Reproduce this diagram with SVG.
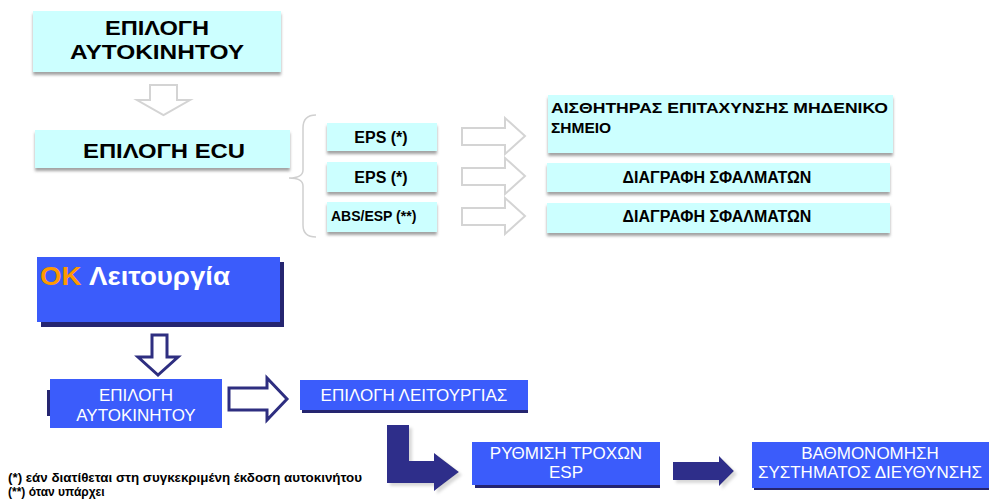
<svg xmlns="http://www.w3.org/2000/svg" width="989" height="502" viewBox="0 0 989 502">
<defs>
<filter id="sh" x="-5%" y="-20%" width="110%" height="150%">
<feDropShadow dx="0" dy="3" stdDeviation="1.5" flood-color="#8a8a8a" flood-opacity="0.8"/>
</filter>
<filter id="ash" x="-20%" y="-20%" width="150%" height="150%">
<feDropShadow dx="3" dy="3" stdDeviation="1.5" flood-color="#d8d8d8" flood-opacity="1"/>
</filter>
</defs>
<style>
.cy{fill:#ccffff;filter:url(#sh)}
.bl{fill:#3b5cfb}
.nv{fill:#252570}
.tb{font-family:"Liberation Sans",Arial,sans-serif;font-weight:bold;fill:#000}
.tw{font-family:"Liberation Sans",Arial,sans-serif;fill:#fff;font-size:17px}
.ha{fill:#fff;stroke:#d4d4d4;stroke-width:2}
.hn{fill:#fff;stroke:#2e2e80;stroke-width:3}
.sn{fill:#2e2e8a;filter:url(#ash)}
.brace{fill:none;stroke:#d0d0d0;stroke-width:1.5}
</style>

<g id="connectors">
<path class="ha" d="M150,85 H177 V100 H190 L163.5,115 L137,100 H150 Z"/>
<path class="brace" d="M316,115 Q303,115 303,128 V170 Q303,178 289,178 Q303,178 303,186 V225 Q303,237 316,237"/>
<path class="ha" d="M462,128 H505 V118 L525,136 L505,154 V145 H462 Z"/>
<path class="ha" d="M462,168 H505 V158 L525,176 L505,194 V185 H462 Z"/>
<path class="ha" d="M462,208 H505 V198 L525,216 L505,234 V225 H462 Z"/>
<path class="hn" d="M152,335 H167 V357 H178 L158,375 L138,357 H152 Z"/>
<path class="hn" d="M229,388 H267 V378 L287,399 L267,420 V410 H229 Z"/>
<path class="sn" d="M387,425 H409 V461 H434 V453 L459,472 L434,491 V483 H387 Z"/>
<path class="sn" d="M673,462 H719 V456 L734,471 L719,486 V480 H673 Z"/>
</g>

<g id="n-car-top">
<rect class="cy" x="33" y="11" width="248" height="61"/>
<text class="tb" x="157" y="35" font-size="20" text-anchor="middle" textLength="104" lengthAdjust="spacingAndGlyphs">ΕΠΙΛΟΓΗ</text>
<text class="tb" x="157" y="59" font-size="20" text-anchor="middle" textLength="174" lengthAdjust="spacingAndGlyphs">ΑΥΤΟΚΙΝΗΤΟΥ</text>
</g>

<g id="n-ecu">
<rect class="cy" x="35" y="130" width="255" height="38"/>
<text class="tb" x="164" y="158" font-size="21" text-anchor="middle" textLength="162" lengthAdjust="spacingAndGlyphs">ΕΠΙΛΟΓΗ ECU</text>
</g>

<g id="n-eps1">
<rect class="cy" x="327" y="123" width="110" height="28"/>
<text class="tb" x="381" y="143" font-size="16" text-anchor="middle">EPS (*)</text>
</g>
<g id="n-eps2">
<rect class="cy" x="327" y="162" width="110" height="30"/>
<text class="tb" x="381" y="183" font-size="16" text-anchor="middle">EPS (*)</text>
</g>
<g id="n-abs">
<rect class="cy" x="327" y="202" width="110" height="30"/>
<text class="tb" x="331" y="221" font-size="14">ABS/ESP (**)</text>
</g>

<g id="n-sensor">
<rect class="cy" x="548" y="95" width="345" height="58"/>
<text class="tb" x="551" y="113" font-size="15.5" textLength="337" lengthAdjust="spacingAndGlyphs">ΑΙΣΘΗΤΗΡΑΣ ΕΠΙΤΑΧΥΝΣΗΣ ΜΗΔΕΝΙΚΟ</text>
<text class="tb" x="551" y="133" font-size="15.5">ΣΗΜΕΙΟ</text>
</g>
<g id="n-clear1">
<rect class="cy" x="547" y="163" width="343" height="29"/>
<text class="tb" x="717" y="183" font-size="16" text-anchor="middle">ΔΙΑΓΡΑΦΗ ΣΦΑΛΜΑΤΩΝ</text>
</g>
<g id="n-clear2">
<rect class="cy" x="547" y="203" width="343" height="30"/>
<text class="tb" x="717" y="222" font-size="16" text-anchor="middle">ΔΙΑΓΡΑΦΗ ΣΦΑΛΜΑΤΩΝ</text>
</g>

<g id="n-ok">
<rect class="nv" x="41" y="262" width="243" height="65"/>
<rect class="bl" x="37" y="257" width="243" height="65"/>
<text x="40" y="285" font-family="Liberation Sans,Arial,sans-serif" font-weight="bold" font-size="26" textLength="190" lengthAdjust="spacingAndGlyphs"><tspan fill="#ff9900">OK</tspan><tspan fill="#fff"> Λειτουργία</tspan></text>
</g>

<g id="n-car">
<rect class="nv" x="47" y="390" width="6" height="26"/>
<rect class="bl" x="50" y="379" width="172" height="49"/>
<text class="tw" x="136" y="401" text-anchor="middle">ΕΠΙΛΟΓΗ</text>
<text class="tw" x="136" y="421" text-anchor="middle">ΑΥΤΟΚΙΝΗΤΟΥ</text>
</g>

<g id="n-func">
<rect class="nv" x="302" y="383" width="226" height="30"/>
<rect class="bl" x="300" y="380" width="228" height="30"/>
<text class="tw" x="414" y="401" text-anchor="middle">ΕΠΙΛΟΓΗ ΛΕΙΤΟΥΡΓΙΑΣ</text>
</g>

<g id="n-wheels">
<rect class="nv" x="475" y="446" width="185" height="42"/>
<rect class="bl" x="472" y="442" width="188" height="43"/>
<text class="tw" x="566" y="459" text-anchor="middle">ΡΥΘΜΙΣΗ ΤΡΟΧΩΝ</text>
<text class="tw" x="566" y="478" text-anchor="middle">ESP</text>
</g>

<g id="n-calib">
<rect class="nv" x="754" y="445" width="235" height="45"/>
<rect class="bl" x="752" y="442" width="237" height="46"/>
<text class="tw" x="870" y="459" text-anchor="middle">ΒΑΘΜΟΝΟΜΗΣΗ</text>
<text class="tw" x="870" y="478" text-anchor="middle">ΣΥΣΤΗΜΑΤΟΣ ΔΙΕΥΘΥΝΣΗΣ</text>
</g>

<g id="notes">
<text class="tb" x="8" y="482" font-size="12" textLength="354" lengthAdjust="spacingAndGlyphs">(*) εάν διατίθεται στη συγκεκριμένη έκδοση αυτοκινήτου</text>
<text class="tb" x="8" y="496" font-size="12">(**) όταν υπάρχει</text>
</g>
</svg>
